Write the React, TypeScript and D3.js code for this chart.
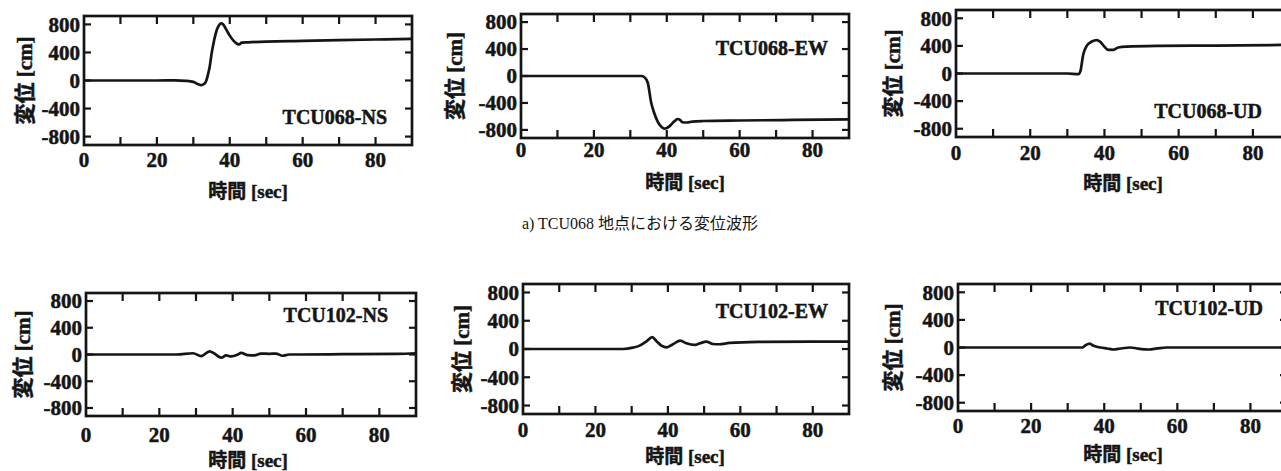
import React from 'react';
import * as d3 from 'd3';

// displacement traces (time in sec, displacement in cm)
const tcu068NsTime = [0, 10, 20, 25, 28, 30, 31, 32, 32.8, 33.5, 34, 34.5, 35, 35.5, 36, 36.5, 37, 37.6, 38.2, 39, 40, 41, 42, 42.6, 43.2, 45, 50, 60, 70, 80, 90];
const tcu068NsDisp = [0, 0, 0, 2, -5, -20, -45, -65, -55, -10, 80, 200, 380, 520, 640, 730, 785, 815, 800, 730, 640, 570, 525, 515, 540, 545, 555, 565, 575, 585, 595];

const tcu068EwTime = [0, 10, 20, 30, 33, 33.8, 34.8, 35.7, 36.6, 37.5, 38.4, 39.3, 40, 40.7, 41.4, 42, 43, 43.7, 44.3, 45.5, 47, 50, 60, 75, 90];
const tcu068EwDisp = [0, 0, 0, 0, 0, -15, -104, -390, -557, -676, -747, -780, -770, -747, -710, -676, -638, -655, -686, -690, -676, -668, -660, -652, -645];

const tcu068UdTime = [0, 10, 20, 30, 33, 33.5, 34.3, 35.2, 36.6, 37.9, 38.8, 40.2, 41, 42.4, 43.7, 46, 55, 70, 90];
const tcu068UdDisp = [0, 0, 0, 0, -10, 30, 278, 400, 463, 483, 463, 376, 342, 342, 376, 390, 400, 405, 415];

const tcu102NsTime = [0, 10, 20, 24.7, 29.2, 31.4, 33.7, 35, 36.9, 38.2, 39.6, 41.4, 42.3, 44.1, 45.9, 47.7, 50, 51.8, 53.6, 55.4, 58, 70, 85, 90];
const tcu102NsDisp = [0, 0, 0, 0, 19, -24, 48, 14, -48, -14, -29, 0, 24, -10, -14, 14, 10, 14, -19, 0, 0, 5, 10, 19];

const tcu102EwTime = [0, 10, 20, 27.6, 30.3, 32.2, 34, 35.7, 36.8, 38.2, 39.7, 41.4, 43.4, 45.1, 47.4, 48.9, 50.6, 52.4, 54.2, 57, 65, 80, 90];
const tcu102EwDisp = [0, 0, 0, 0, 19, 48, 105, 167, 114, 48, 24, 67, 119, 81, 57, 81, 105, 71, 67, 86, 100, 105, 105];

const tcu102UdTime = [0, 10, 20, 30, 34, 34.9, 36, 37.1, 39, 40.8, 42.6, 44.5, 47.2, 49, 52.2, 54.5, 57, 70, 90];
const tcu102UdDisp = [0, 0, 0, 0, 0, 33, 57, 24, 0, -14, -29, -14, 0, -14, -29, -14, 0, 0, 0];

const stationNames = ['TCU068-NS', 'TCU068-EW', 'TCU068-UD', 'TCU102-NS', 'TCU102-EW', 'TCU102-UD'];
const seriesTime = [tcu068NsTime, tcu068EwTime, tcu068UdTime, tcu102NsTime, tcu102EwTime, tcu102UdTime];
const seriesDisp = [tcu068NsDisp, tcu068EwDisp, tcu068UdDisp, tcu102NsDisp, tcu102EwDisp, tcu102UdDisp];

const xTicksMajor = [0, 20, 40, 60, 80];
const xTicksMinor = [10, 20, 30, 40, 50, 60, 70, 80];
const yTicks = [800, 400, 0, -400, -800];

const xLabel = '時間 [sec]';
const yLabel = '変位 [cm]';
const caption = 'a) TCU068 地点における変位波形';

// frame of each panel in page pixels
const layout = [
  { l: 84, t: 16, r: 412, b: 145, tickDy: 22, xLabY: 198, xLabX: 248, yLabX: 25, nameX: 387, nameY: 124 },
  { l: 521, t: 14, r: 849, b: 138, tickDy: 19, xLabY: 189, xLabX: 685, yLabX: 455, nameX: 828, nameY: 55 },
  { l: 956, t: 10, r: 1290, b: 137, tickDy: 23, xLabY: 190, xLabX: 1123, yLabX: 893, nameX: 1262, nameY: 118 },
  { l: 86, t: 293, r: 416, b: 416, tickDy: 26, xLabY: 467, xLabX: 248, yLabX: 23, nameX: 388, nameY: 322 },
  { l: 523, t: 284, r: 849, b: 414, tickDy: 23, xLabY: 463, xLabX: 685, yLabX: 462, nameX: 828, nameY: 318 },
  { l: 958, t: 284, r: 1287, b: 411, tickDy: 22, xLabY: 461, xLabX: 1123, yLabX: 893, nameX: 1263, nameY: 315 },
];

const ink = '#151515';
const font = '"Times New Roman", "Liberation Serif", "DejaVu Serif", "Noto Sans CJK JP", serif';
// scanned print looks heavier than a clean bold face
const heavy = { fontFamily: font, fontWeight: 700, stroke: ink, strokeWidth: 0.5 };

const Panel = ({ idx }: { idx: number }) => {
  const p = layout[idx];
  const x = d3.scaleLinear().domain([0, 90]).range([p.l, p.r]);
  const y = d3.scaleLinear().domain([-920, 920]).range([p.b, p.t]);
  const pts = seriesTime[idx].map((t, i) => [t, seriesDisp[idx][i]] as [number, number]);
  const line = d3.line<[number, number]>()
    .x(d => x(d[0]))
    .y(d => y(d[1]))
    .curve(d3.curveMonotoneX);
  const xLen = 8;
  const yLen = 7;

  return (
    <g>
      <path d={line(pts) || ''} fill="none" stroke={ink} strokeWidth={2.7} strokeLinejoin="round" />
      {xTicksMinor.map(v => (
        <g key={'xt' + v} stroke={ink} strokeWidth={2.2}>
          <line x1={x(v)} x2={x(v)} y1={p.b} y2={p.b - xLen} />
          <line x1={x(v)} x2={x(v)} y1={p.t} y2={p.t + xLen} />
        </g>
      ))}
      {yTicks.map(v => (
        <g key={'yt' + v} stroke={ink} strokeWidth={2.2}>
          <line x1={p.l} x2={p.l + yLen} y1={y(v)} y2={y(v)} />
          <line x1={p.r} x2={p.r - yLen} y1={y(v)} y2={y(v)} />
        </g>
      ))}
      <rect x={p.l} y={p.t} width={p.r - p.l} height={p.b - p.t} fill="none" stroke={ink} strokeWidth={2.7} />
      {xTicksMajor.map(v => (
        <text key={'xl' + v} x={x(v)} y={p.b + p.tickDy} textAnchor="middle"
          style={{ ...heavy, fontSize: 21 }} fill={ink}>{v}</text>
      ))}
      {yTicks.map(v => (
        <text key={'yl' + v} x={p.l - 4} y={y(v)} dy="0.35em" textAnchor="end"
          style={{ ...heavy, fontSize: 21 }} fill={ink}>{v}</text>
      ))}
      <text x={p.nameX} y={p.nameY} textAnchor="end"
        style={{ ...heavy, fontSize: 20 }} fill={ink}>{stationNames[idx]}</text>
      <text x={p.xLabX} y={p.xLabY} textAnchor="middle"
        style={{ ...heavy, fontSize: 19 }} fill={ink}>{xLabel}</text>
      <text transform={`translate(${p.yLabX},${(p.t + p.b) / 2}) rotate(-90)`} dy="0.35em" textAnchor="middle"
        style={{ ...heavy, fontSize: 21 }} fill={ink}>{yLabel}</text>
    </g>
  );
};

export default function App() {
  return (
    <svg width={1281} height={471} style={{ position: 'absolute', left: 0, top: 0, background: '#fff' }}>
      {layout.map((_, i) => <Panel key={i} idx={i} />)}
      <text x={640} y={229} textAnchor="middle" style={{ fontFamily: font, fontSize: 16 }} fill={ink}>{caption}</text>
    </svg>
  );
}
